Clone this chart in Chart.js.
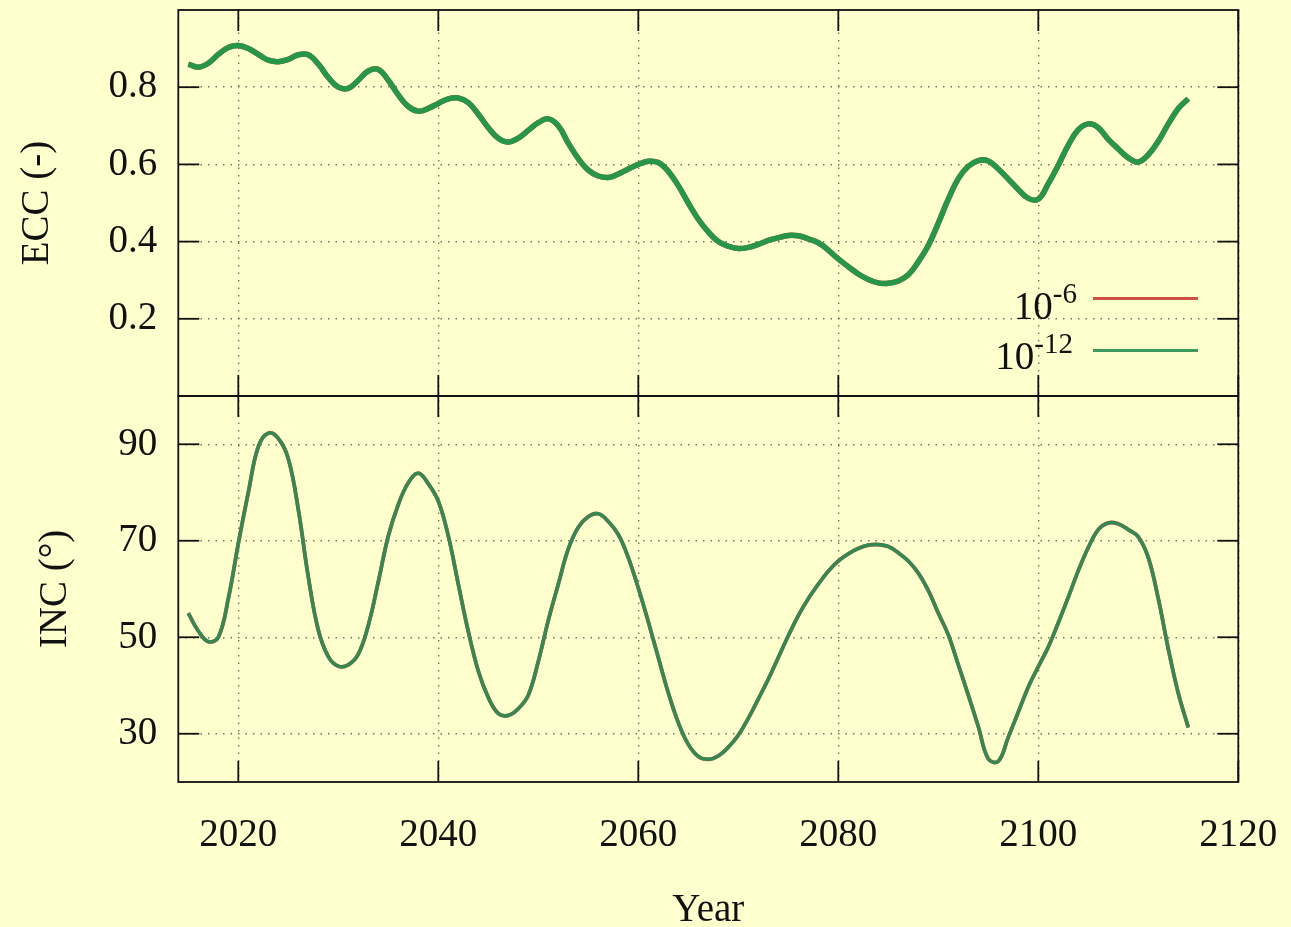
<!DOCTYPE html>
<html>
<head>
<meta charset="utf-8">
<script src="https://cdn.jsdelivr.net/npm/chart.js@4.4.1/dist/chart.umd.min.js"></script>
<style>
  html, body { margin: 0; padding: 0; background: #ffffcd; overflow: hidden; }
  #wrap { position: relative; width: 1291px; height: 945px; }
  #orbit { position: absolute; left: 0; top: 0; }
  .key { position: absolute; font: 39px "Liberation Serif", "Times New Roman", serif; line-height: 40px; color: #111; white-space: nowrap; }
  .key sup { font-size: 29px; vertical-align: baseline; position: relative; top: -16px; }
  .swatch { position: absolute; left: 1093px; width: 105px; height: 3px; }
</style>
</head>
<body>
<div id="wrap">
  <canvas id="orbit" width="1291" height="945"></canvas>
  <span class="key" style="right:214px; top:286px">10<sup>-6</sup></span>
  <div class="swatch" style="top:297px; background:#cd5046"></div>
  <span class="key" style="right:218px; top:336px">10<sup>-12</sup></span>
  <div class="swatch" style="top:349px; background:#3b9a5c"></div>
</div>
<script>
// x ticks and y ticks (gnuplot style, only these are labelled)
const xTicks = [2020, 2040, 2060, 2080, 2100, 2120];
const eccTicks = [0.2, 0.4, 0.6, 0.8];
const incTicks = [30, 50, 70, 90];

// one sample per year, 2015 .. 2115
const years = Array.from({ length: 101 }, (_, i) => 2015 + i);

// eccentricity, tolerance 1e-12
const eccTol12 = [
  0.860, 0.852, 0.862, 0.885, 0.903, 0.908, 0.900, 0.885, 0.870, 0.866,
  0.872, 0.884, 0.884, 0.860, 0.825, 0.800, 0.797, 0.818, 0.842, 0.846,
  0.818, 0.780, 0.750, 0.738, 0.745, 0.758, 0.770, 0.772, 0.760, 0.730,
  0.695, 0.668, 0.658, 0.668, 0.688, 0.708, 0.718, 0.700, 0.655, 0.615,
  0.585, 0.570, 0.566, 0.575, 0.588, 0.600, 0.608, 0.605, 0.582, 0.545,
  0.500, 0.458, 0.425, 0.400, 0.388, 0.382, 0.385, 0.393, 0.403, 0.410,
  0.416, 0.415, 0.407, 0.397, 0.378, 0.355, 0.335, 0.316, 0.302, 0.293,
  0.292, 0.298, 0.314, 0.348, 0.390, 0.448, 0.510, 0.563, 0.595, 0.610,
  0.609, 0.588, 0.562, 0.535, 0.512, 0.510, 0.550, 0.598, 0.650, 0.690,
  0.705, 0.695, 0.665, 0.640, 0.617, 0.606, 0.625, 0.660, 0.705, 0.745,
  0.770
];
// the 1e-6 run sits right under the 1e-12 one at this scale
const eccTol6 = eccTol12.slice();

// inclination in degrees, tolerance 1e-12
const incTol12 = [
  55.0, 51.3, 49.1, 50.0, 58.0, 69.4, 80.0, 89.5, 92.3, 91.2,
  87.0, 76.5, 62.5, 51.5, 46.0, 44.0, 44.3, 46.5, 52.5, 61.5,
  71.0, 77.5, 82.0, 84.0, 81.8, 78.2, 71.0, 61.0, 51.2, 43.0,
  37.5, 34.2, 33.8, 35.2, 38.0, 45.0, 53.5, 61.0, 68.3, 72.8,
  75.0, 75.6, 74.0, 71.3, 66.5, 60.2, 53.2, 45.8, 38.5, 32.3,
  27.8, 25.3, 24.7, 25.4, 27.2, 29.7, 33.2, 37.2, 41.3, 45.8,
  50.3, 54.5, 58.0, 61.0, 63.7, 65.8, 67.3, 68.4, 69.1, 69.2,
  68.8, 67.5, 65.8, 63.3, 59.7, 55.0, 50.5, 44.3, 38.0, 31.5,
  24.8, 24.3, 29.3, 34.5, 39.7, 43.9, 48.0, 53.0, 58.3, 63.8,
  68.6, 72.3, 73.7, 73.5, 72.3, 70.8, 66.5, 58.0, 47.6, 38.4,
  31.3
];
const incTol6 = incTol12.slice();

const RED = '#cd5046';
const GREEN_ECC = '#279649';
const GREEN_INC = '#368853';
const INK = '#111';
const TICK_LEN = 21;
const font = { family: '"Liberation Serif", "Times New Roman", serif', size: 39 };
const gridColor = 'rgba(80, 80, 80, 0.8)';

const pts = (xs, ys) => xs.map((x, i) => ({ x: x, y: ys[i] }));

// chart.js pads for edge labels; the layout here is fixed, so drop that
const noEdgePad = s => {
    s.paddingLeft = 0; s.paddingRight = 0; s.paddingTop = 0; s.paddingBottom = 0;
};

// border box + inward ticks on every side of both panels
const frameTicks = {
    id: 'frameTicks',
    afterDraw(chart) {
        const { ctx, chartArea: a, scales } = chart;
        const line = (x1, y1, x2, y2) => {
            ctx.beginPath(); ctx.moveTo(x1, y1); ctx.lineTo(x2, y2); ctx.stroke();
        };
        ctx.save();
        ctx.strokeStyle = INK;
        ctx.lineWidth = 1.8;
        ['ecc', 'inc'].forEach(id => {
            const s = scales[id];
            ctx.strokeRect(a.left, s.top, a.right - a.left, s.bottom - s.top);
            s.ticks.forEach(t => {
                const y = s.getPixelForValue(t.value);
                line(a.left, y, a.left + TICK_LEN, y);
                line(a.right, y, a.right - TICK_LEN, y);
            });
            scales.x.ticks.forEach(t => {
                const x = scales.x.getPixelForValue(t.value);
                line(x, s.top, x, s.top + TICK_LEN);
                line(x, s.bottom, x, s.bottom - TICK_LEN);
            });
        });
        ctx.restore();
    }
};

const ctx = document.getElementById('orbit').getContext('2d');
new Chart(ctx, {
    type: 'line',
    data: {
        datasets: [
            { label: '1e-12 ecc', data: pts(years, eccTol12), yAxisID: 'ecc', borderColor: GREEN_ECC, borderWidth: 5.5, order: 0 },
            { label: '1e-12 inc', data: pts(years, incTol12), yAxisID: 'inc', borderColor: GREEN_INC, borderWidth: 3.6, order: 0 },
            { label: '1e-6 ecc', data: pts(years, eccTol6), yAxisID: 'ecc', borderColor: RED, borderWidth: 5.5, order: 1 },
            { label: '1e-6 inc', data: pts(years, incTol6), yAxisID: 'inc', borderColor: RED, borderWidth: 3.8, order: 1 }
        ]
    },
    options: {
        responsive: false,
        animation: false,
        layout: { padding: { top: 10, right: 52.7, bottom: 0, left: 0 } },
        elements: {
            point: { radius: 0 },
            line: { tension: 0.4, fill: false }
        },
        plugins: {
            legend: { display: false },
            tooltip: { enabled: false }
        },
        scales: {
            x: {
                type: 'linear',
                min: 2014,
                max: 2120,
                afterBuildTicks: s => { s.ticks = xTicks.map(v => ({ value: v })); },
                afterFit: s => { s.height = 163; noEdgePad(s); },
                grid: { color: gridColor, lineWidth: 1.4, drawTicks: false },
                border: { display: false, dash: [1.5, 6] },
                ticks: { font: font, color: INK, padding: 30, maxRotation: 0, callback: v => String(v) },
                title: { display: true, text: 'Year', font: font, color: INK, padding: { top: 0, bottom: 11 } }
            },
            inc: {
                type: 'linear',
                position: 'left',
                stack: 'panels',
                stackWeight: 1,
                min: 20,
                max: 100,
                afterBuildTicks: s => { s.ticks = incTicks.map(v => ({ value: v })); },
                afterFit: s => { s.width = 178.3; noEdgePad(s); },
                grid: { color: gridColor, lineWidth: 1.4, drawTicks: false },
                border: { display: false, dash: [1.5, 6] },
                ticks: { font: font, color: INK, padding: 21 },
                title: { display: true, text: 'INC (°)', font: font, color: INK, padding: { top: 32, bottom: 0 } }
            },
            ecc: {
                type: 'linear',
                position: 'left',
                stack: 'panels',
                stackWeight: 1,
                min: 0,
                max: 1,
                afterBuildTicks: s => { s.ticks = eccTicks.map(v => ({ value: v })); },
                afterFit: s => { s.width = 178.3; noEdgePad(s); },
                grid: { color: gridColor, lineWidth: 1.4, drawTicks: false },
                border: { display: false, dash: [1.5, 6] },
                ticks: { font: font, color: INK, padding: 21, callback: v => v.toFixed(1) },
                title: { display: true, text: 'ECC (-)', font: font, color: INK, padding: { top: 14, bottom: 0 } }
            }
        }
    },
    plugins: [frameTicks]
});
</script>
</body>
</html>
